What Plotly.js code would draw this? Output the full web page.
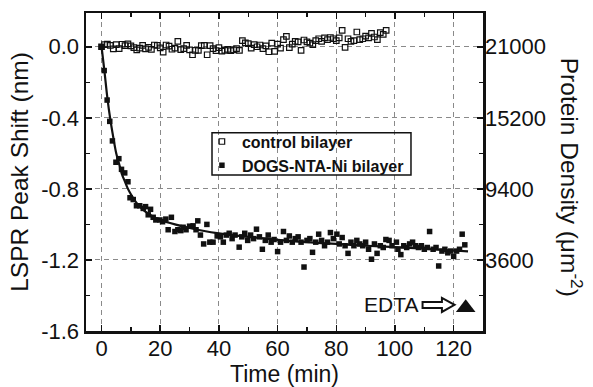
<!DOCTYPE html>
<html>
<head>
<meta charset="utf-8">
<script src="https://cdn.plot.ly/plotly-3.0.1.min.js"></script>
<style>html,body{margin:0;padding:0;background:#fff;}#chart{width:593px;height:387px;}</style>
</head>
<body>
<div id="chart"></div>
<script>
// ---- data ----
const controlTime = [0,1,2,3,4,5,6,7,8,9,10,11,12,13,14,15,16,17,18,19,20,21,22,23,24,25,26,27,28,29,30,31,32,33,34,35,36,37,38,39,40,41,42,43,44,45,46,47,48,49,50,51,52,53,54,55,56,57,58,59,60,61,62,63,64,65,66,67,68,69,70,71,72,73,74,75,76,77,78,79,80,81,82,83,84,85,86,87,88,89,90,91,92,93,94,95,96,97];
const controlShift = [0.000,0.012,0.015,0.008,-0.012,0.012,-0.010,0.014,0.006,0.016,0.005,-0.005,-0.018,-0.008,0.008,-0.012,-0.004,-0.015,0.010,0.008,-0.006,-0.030,0.010,0.004,-0.014,-0.008,0.030,-0.016,-0.010,0.008,-0.018,-0.045,-0.020,-0.020,0.006,0.008,-0.045,0.006,-0.010,-0.022,-0.005,-0.025,-0.020,-0.015,-0.022,-0.018,-0.010,-0.020,0.034,0.022,0.018,-0.008,0.012,0.000,0.010,-0.010,0.005,-0.028,0.020,-0.026,0.015,-0.008,0.040,0.058,-0.005,0.015,0.030,0.028,-0.020,0.038,0.028,0.020,0.012,0.035,0.045,0.030,0.050,0.040,0.052,0.045,0.035,0.050,0.092,-0.004,0.045,0.030,0.035,0.083,0.040,0.045,0.060,0.050,0.075,0.055,0.040,0.080,0.070,0.092];

const dogsTime = [0,0.9,1.9,2.8,3.7,4.9,5.9,6.8,7.9,9.0,9.7,10.8,11.9,13.0,14.2,15.0,15.9,16.7,17.6,18.5,19.9,20.8,21.9,22.7,23.8,25.0,26.0,27.0,27.8,28.8,30.0,31.2,32.2,32.8,33.7,34.8,35.9,36.9,38.0,39.4,40.5,41.5,42.5,43.5,44.5,45.5,46.9,47.8,48.8,49.8,50.8,51.8,52.8,53.8,54.8,55.8,56.8,57.8,58.8,60.0,61.0,62.0,63.0,64.0,65.0,66.0,67.0,68.0,69.0,70.0,71.0,71.9,73.0,74.0,75.0,76.0,77.0,78.0,79.0,80.2,81.0,82.0,83.0,84.0,85.0,86.0,87.0,88.0,89.0,90.0,91.0,92.0,93.0,93.9,95.0,96.0,96.9,98.0,99.0,100.5,101.0,102.0,103.0,104.0,105.0,106.0,107.0,108.0,109.0,110.0,111.0,111.8,113.0,114.0,114.9,116.0,117.0,118.0,119.0,120.0,121.0,122.0,122.9,123.8];
const dogsShift = [0.0,-0.134,-0.30,-0.42,-0.53,-0.65,-0.63,-0.69,-0.71,-0.76,-0.85,-0.86,-0.895,-0.895,-0.91,-0.90,-0.946,-0.915,-0.96,-0.975,-0.975,-0.985,-0.97,-1.03,-0.96,-1.04,-1.03,-1.035,-1.016,-1.03,-1.01,-1.008,-1.03,-0.98,-1.06,-1.11,-1.00,-1.10,-1.10,-1.065,-1.07,-1.10,-1.06,-1.05,-1.08,-1.06,-1.128,-1.07,-1.05,-1.09,-1.06,-1.08,-1.027,-1.07,-1.14,-1.09,-1.06,-1.10,-1.085,-1.153,-1.10,-1.04,-1.09,-1.065,-1.10,-1.08,-1.07,-1.10,-1.24,-1.09,-1.08,-1.157,-1.10,-1.055,-1.09,-1.12,-1.10,-1.046,-1.08,-1.055,-1.11,-1.074,-1.12,-1.163,-1.10,-1.12,-1.09,-1.11,-1.12,-1.10,-1.14,-1.196,-1.11,-1.163,-1.12,-1.13,-1.085,-1.09,-1.12,-1.10,-1.14,-1.17,-1.12,-1.13,-1.11,-1.10,-1.12,-1.13,-1.12,-1.14,-1.13,-1.04,-1.14,-1.13,-1.234,-1.15,-1.14,-1.16,-1.15,-1.18,-1.15,-1.14,-1.055,-1.115];

const fitTime  = [0,0.5,1,2,3,4,5,6,7,8,9,10,12,14,16,18,20,25,30,35,40,50,60,70,80,90,100,110,120,124.9];
const fitShift = [0,-0.07,-0.14,-0.29,-0.41,-0.51,-0.60,-0.66,-0.72,-0.76,-0.80,-0.83,-0.88,-0.915,-0.94,-0.96,-0.975,-1.0,-1.02,-1.037,-1.05,-1.07,-1.087,-1.10,-1.11,-1.12,-1.128,-1.137,-1.147,-1.152];

const edtaTime = [124.1];
const edtaShift = [-1.469];

const xTickVals = [0,20,40,60,80,100,120];
const yTickVals = [-1.6,-1.2,-0.8,-0.4,0.0];
const yTickLabels = ['-1.6','-1.2','-0.8','-0.4','0.0'];
const densityTickLabels = ['3600','9400','15200','21000'];
const densityAtZero = 21000;
const densityPerNm = 14500;

// ---- layout ----
const font = 'Liberation Sans, Arial, Helvetica, sans-serif';
const yRange = [-1.6, 0.19];
const xRange = [-5.3, 130];
const yMinorVals = [-1.4,-1.0,-0.6,-0.2];
const densityTickVals = densityTickLabels.map(Number);

const traces = [
  {x: controlTime, y: controlShift, type:'scatter', mode:'markers', name:'control bilayer',
   marker:{symbol:'square-open', size:5.5, color:'#111', line:{width:1.2, color:'#111'}}},
  {x: dogsTime, y: dogsShift, type:'scatter', mode:'markers', name:'DOGS-NTA-Ni bilayer',
   marker:{symbol:'square', size:5.5, color:'#111'}},
  {x: fitTime, y: fitShift, type:'scatter', mode:'lines', showlegend:false,
   line:{color:'#111', width:2.2, shape:'spline', smoothing:0.8}, hoverinfo:'skip'},
  {x: edtaTime, y: edtaShift, type:'scatter', mode:'markers', showlegend:false,
   marker:{symbol:'triangle-up', size:17, color:'#111'}},
  {x:[null], y:[null], yaxis:'y2', showlegend:false, type:'scatter'}
];

const arrowY = -1.453;
const layout = {
  width:593, height:387,
  margin:{l:86, r:110, t:13, b:56, pad:0},
  paper_bgcolor:'#fff', plot_bgcolor:'#fff',
  font:{family:font, color:'#111', size:22},
  showlegend:true,
  legend:{x:0.292, y:0.649, xanchor:'left', yanchor:'top', bgcolor:'rgba(0,0,0,0)', borderwidth:0,
          font:{family:font, size:16, weight:'bold', color:'#111'}, tracegroupgap:0},
  xaxis:{range:xRange, tickvals:xTickVals, ticks:'inside', ticklen:6, tickwidth:1.5, tickcolor:'#111',
         minor:{dtick:10, tick0:0, ticks:'inside', ticklen:4, tickwidth:1.5, tickcolor:'#111', showgrid:false},
         showline:true, linecolor:'#111', linewidth:2.5, mirror:'ticks',
         showgrid:true, gridcolor:'#8a8a8a', gridwidth:1, griddash:'5px,4px', zeroline:false,
         tickfont:{size:22, family:font}, ticklabelstandoff:-4,
         title:{text:'Time (min)', font:{size:23, family:font}, standoff:0}},
  yaxis:{range:yRange, tickvals:yTickVals, ticktext:yTickLabels, ticks:'inside', ticklen:6, tickwidth:1.5, tickcolor:'#111',
         minor:{tickvals:yMinorVals, ticks:'inside', ticklen:4, tickwidth:1.5, tickcolor:'#111', showgrid:false},
         showline:true, linecolor:'#111', linewidth:2.5, mirror:false,
         showgrid:true, gridcolor:'#8a8a8a', gridwidth:1, griddash:'5px,4px', zeroline:false,
         tickfont:{size:22, family:font}, ticklabelstandoff:0,
         title:{text:'LSPR Peak Shift (nm)', font:{size:24.5, family:font}, standoff:6}},
  yaxis2:{overlaying:'y', side:'right', range:yRange.map(v => densityAtZero + densityPerNm*v),
          tickvals:densityTickVals, ticktext:densityTickLabels, ticks:'inside', ticklen:6, tickwidth:1.5, tickcolor:'#111',
          minor:{tickvals:yMinorVals.map(v => densityAtZero + densityPerNm*v), ticks:'inside', ticklen:4, tickwidth:1.5, tickcolor:'#111', showgrid:false},
          showline:true, linecolor:'#111', linewidth:2.5, showgrid:false, zeroline:false,
          tickfont:{size:22, family:font}, ticklabelstandoff:-5},
  shapes:[
    {type:'rect', xref:'paper', yref:'paper', x0:0.3174, x1:0.8186, y0:0.4906, y1:0.6236,
     line:{color:'#111', width:1.5}, fillcolor:'rgba(255,255,255,0)', layer:'above'},
    {type:'path', xref:'x', yref:'y', layer:'above', line:{color:'#111', width:2}, fillcolor:'#fff',
     path:'M109.4,-1.437 L116.0,-1.437 L116.0,-1.414 L120.3,-1.453 L116.0,-1.493 L116.0,-1.470 L109.4,-1.470 Z'}
  ],
  annotations:[
    {text:'EDTA', x:108.5, y:arrowY, xref:'x', yref:'y', xanchor:'right', yanchor:'middle', showarrow:false,
     font:{size:21, family:font, color:'#111'}},
    {text:'Protein Density (μm<sup>-2</sup>)', xref:'paper', yref:'paper', x:1.225, y:0.484, textangle:90,
     xanchor:'center', yanchor:'middle', showarrow:false, font:{size:24.5, family:font, color:'#111'}}
  ]
};

Plotly.newPlot('chart', traces, layout, {staticPlot:true, displayModeBar:false});
</script>
</body>
</html>
